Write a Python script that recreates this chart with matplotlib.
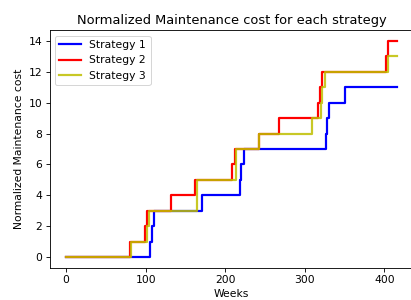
import matplotlib
matplotlib.use('Agg')
import matplotlib.pyplot as plt

# change points (week, cumulative normalized cost) for each strategy
weeks_s1 = [0, 106, 108, 111, 171, 218, 220, 223, 326, 328, 331, 351, 416]
cost_s1 = [0, 1, 2, 3, 4, 5, 6, 7, 8, 9, 10, 11, 11]

weeks_s2 = [0, 80, 99, 102, 132, 162, 208, 212, 243, 268, 316, 319, 322, 402, 405, 416]
cost_s2 = [0, 1, 2, 3, 4, 5, 6, 7, 8, 9, 10, 11, 12, 13, 14, 14]

weeks_s3 = [0, 82, 102, 104, 164, 213, 243, 309, 320, 322, 325, 405, 416]
cost_s3 = [0, 1, 2, 3, 5, 7, 8, 9, 10, 11, 12, 13, 13]

labels = ['Strategy 1', 'Strategy 2', 'Strategy 3']

# reference looks like a slightly upscaled default style
scale = 1.08
plt.rcParams.update({
    'font.size': 10 * scale,
    'axes.titlesize': 12 * scale,
    'axes.linewidth': 0.8 * scale,
    'xtick.major.size': 3.5 * scale,
    'ytick.major.size': 3.5 * scale,
    'xtick.major.width': 0.8 * scale,
    'ytick.major.width': 0.8 * scale,
})

# dpi 72 so that points == pixels
fig = plt.figure(figsize=(411 / 72, 300 / 72), dpi=72)
ax = fig.add_axes([49.5 / 411, 32.2 / 300, 364.2 / 411, 237.6 / 300])

ax.plot(weeks_s1, cost_s1, 'b', drawstyle='steps-post', linewidth=2.2, label=labels[0])
ax.plot(weeks_s2, cost_s2, 'r', drawstyle='steps-post', linewidth=2.2, label=labels[1])
ax.plot(weeks_s3, cost_s3, 'y', drawstyle='steps-post', linewidth=2.2, alpha=0.85, label=labels[2])

ax.set_xticks([0, 100, 200, 300, 400])
ax.set_yticks(range(0, 15, 2))
ax.set_title('Normalized Maintenance cost for each strategy')
ax.set_xlabel('Weeks')
ax.set_ylabel('Normalized Maintenance cost')
ax.legend(loc='upper left')

fig.savefig('out.png', dpi=72)
